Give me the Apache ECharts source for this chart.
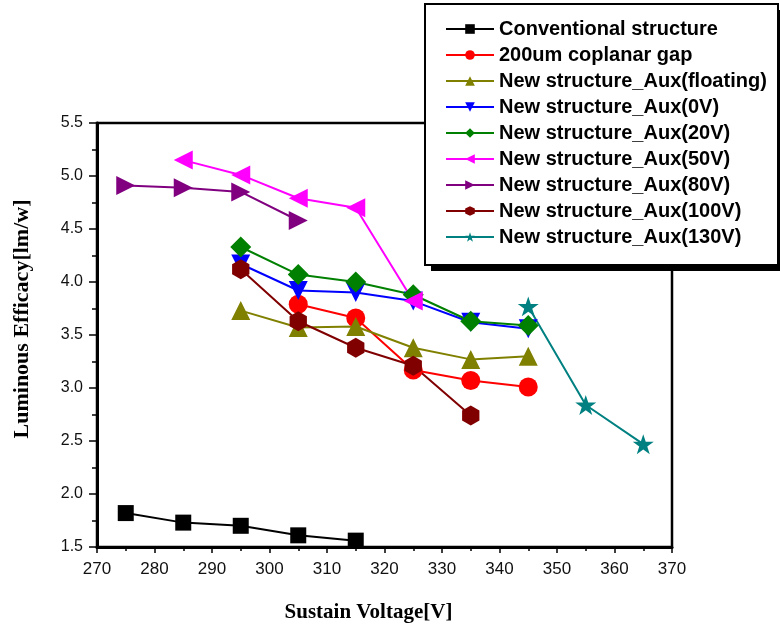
<!DOCTYPE html>
<html>
<head>
<meta charset="utf-8">
<script src="https://cdn.jsdelivr.net/npm/echarts@6/dist/echarts.min.js"></script>
<style>html,body{margin:0;padding:0;background:#fff;}#chart{width:780px;height:626px;}</style>
</head>
<body>
<div id="chart"></div>
<script>
// ---- data ----
const seriesNames = [
  'Conventional structure',
  '200um coplanar gap',
  'New structure_Aux(floating)',
  'New structure_Aux(0V)',
  'New structure_Aux(20V)',
  'New structure_Aux(50V)',
  'New structure_Aux(80V)',
  'New structure_Aux(100V)',
  'New structure_Aux(130V)'
];
const convX = [275, 285, 295, 305, 315];
const convY = [1.82, 1.73, 1.70, 1.61, 1.56];
const gapX = [305, 315, 325, 335, 345];
const gapY = [3.79, 3.66, 3.17, 3.07, 3.01];
const floatX = [295, 305, 315, 325, 335, 345];
const floatY = [3.73, 3.57, 3.58, 3.38, 3.27, 3.30];
const aux0X = [295, 305, 315, 325, 335, 345];
const aux0Y = [4.17, 3.92, 3.90, 3.82, 3.62, 3.56];
const aux20X = [295, 305, 315, 325, 335, 345];
const aux20Y = [4.33, 4.07, 4.00, 3.88, 3.63, 3.59];
const aux50X = [285, 295, 305, 315, 325];
const aux50Y = [5.15, 5.01, 4.79, 4.70, 3.82];
const aux80X = [275, 285, 295, 305];
const aux80Y = [4.91, 4.89, 4.85, 4.58];
const aux100X = [295, 305, 315, 325, 335];
const aux100Y = [4.12, 3.63, 3.38, 3.21, 2.74];
const aux130X = [345, 355, 365];
const aux130Y = [3.77, 2.84, 2.47];
const xTicks = [270, 280, 290, 300, 310, 320, 330, 340, 350, 360, 370];
const yTicks = [1.5, 2.0, 2.5, 3.0, 3.5, 4.0, 4.5, 5.0, 5.5];

// ---- styling ----
const HEX = 'path://M50,0 L93.3,25 L93.3,75 L50,100 L6.7,75 L6.7,25 Z';
const STAR = 'path://M50,0 L61.23,34.55 L97.55,34.55 L68.16,55.90 L79.39,90.45 L50,69.1 L20.61,90.45 L31.84,55.90 L2.45,34.55 L38.77,34.55 Z';
const styles = [
  {color: '#000000', symbol: 'rect', size: 16, rot: 0},
  {color: '#ff0000', symbol: 'circle', size: 19, rot: 0},
  {color: '#808000', symbol: 'triangle', size: 19, rot: 0},
  {color: '#0000ff', symbol: 'triangle', size: 19, rot: 180},
  {color: '#008000', symbol: 'diamond', size: 21, rot: 0},
  {color: '#ff00ff', symbol: 'triangle', size: 19, rot: 90},
  {color: '#800080', symbol: 'triangle', size: 19, rot: -90},
  {color: '#800000', symbol: HEX, size: 20, rot: 0},
  {color: '#008080', symbol: STAR, size: 21, rot: 0}
];
const xsAll = [convX, gapX, floatX, aux0X, aux20X, aux50X, aux80X, aux100X, aux130X];
const ysAll = [convY, gapY, floatY, aux0Y, aux20Y, aux50Y, aux80Y, aux100Y, aux130Y];

const series = seriesNames.map((name, i) => ({
  name: name,
  type: 'line',
  data: xsAll[i].map((x, k) => [x, ysAll[i][k]]),
  symbol: styles[i].symbol,
  symbolSize: styles[i].size,
  symbolRotate: styles[i].rot,
  symbolKeepAspect: true,
  showAllSymbol: true,
  lineStyle: {color: styles[i].color, width: 2},
  itemStyle: {color: styles[i].color},
  emphasis: {disabled: true},
  animation: false
}));

const chart = echarts.init(document.getElementById('chart'), null, {renderer: 'canvas'});
chart.setOption({
  backgroundColor: '#ffffff',
  animation: false,
  grid: {left: 97, right: 108, top: 123, bottom: 79, containLabel: false, outerBoundsMode: 'none',
    show: true, borderColor: '#000', borderWidth: 2.5, backgroundColor: 'transparent'},
  graphic: [
    {type: 'rect', z: 10, shape: {x: 431, y: 10, width: 353, height: 261}, style: {fill: '#000'}},
    {type: 'rect', z: 11, shape: {x: 425, y: 4, width: 353, height: 261}, style: {fill: '#fff', stroke: '#000', lineWidth: 2}}
  ],
  legend: {
    z: 20,
    orient: 'vertical',
    left: 425,
    top: 4,
    padding: [15, 10, 15, 20],
    itemWidth: 48,
    itemHeight: 12,
    itemGap: 6,
    textStyle: {fontFamily: '"Liberation Sans", Arial, sans-serif', fontWeight: 'bold', fontSize: 20, color: '#000', lineHeight: 20},
    data: seriesNames
  },
  xAxis: {
    type: 'value',
    min: xTicks[0],
    max: xTicks[xTicks.length - 1],
    interval: 10,
    name: 'Sustain Voltage[V]',
    nameLocation: 'middle',
    nameGap: 55,
    nameTextStyle: {fontFamily: '"Liberation Serif", "Times New Roman", serif', fontWeight: 'bold', fontSize: 21, color: '#000', padding: [0, 32, 0, 0]},
    axisLine: {show: true, lineStyle: {color: '#000', width: 3}},
    axisTick: {show: true, inside: false, length: 6, lineStyle: {color: '#000', width: 1.5}},
    minorTick: {show: true, splitNumber: 2, length: 4, lineStyle: {color: '#000', width: 1.5}},
    splitLine: {show: false},
    axisLabel: {color: '#111', fontSize: 17, fontFamily: '"Liberation Sans", Arial, sans-serif', margin: 14,
      formatter: v => xTicks.indexOf(v) >= 0 ? String(v) : ''}
  },
  yAxis: {
    type: 'value',
    min: yTicks[0],
    max: yTicks[yTicks.length - 1],
    interval: 0.5,
    name: 'Luminous Efficacy[lm/w]',
    nameLocation: 'middle',
    nameGap: 64,
    nameRotate: 90,
    nameTextStyle: {fontFamily: '"Liberation Serif", "Times New Roman", serif', fontWeight: 'bold', fontSize: 22, color: '#000', padding: [0, 0, 0, 32]},
    axisLine: {show: true, lineStyle: {color: '#000', width: 3}},
    axisTick: {show: true, inside: false, length: 8, lineStyle: {color: '#000', width: 1.5}},
    minorTick: {show: true, splitNumber: 2, length: 5, lineStyle: {color: '#000', width: 1.5}},
    splitLine: {show: false},
    axisLabel: {color: '#111', fontSize: 16, fontFamily: '"Liberation Sans", Arial, sans-serif', margin: 14,
      formatter: v => v.toFixed(1)}
  },
  series: series
});
</script>
</body>
</html>
